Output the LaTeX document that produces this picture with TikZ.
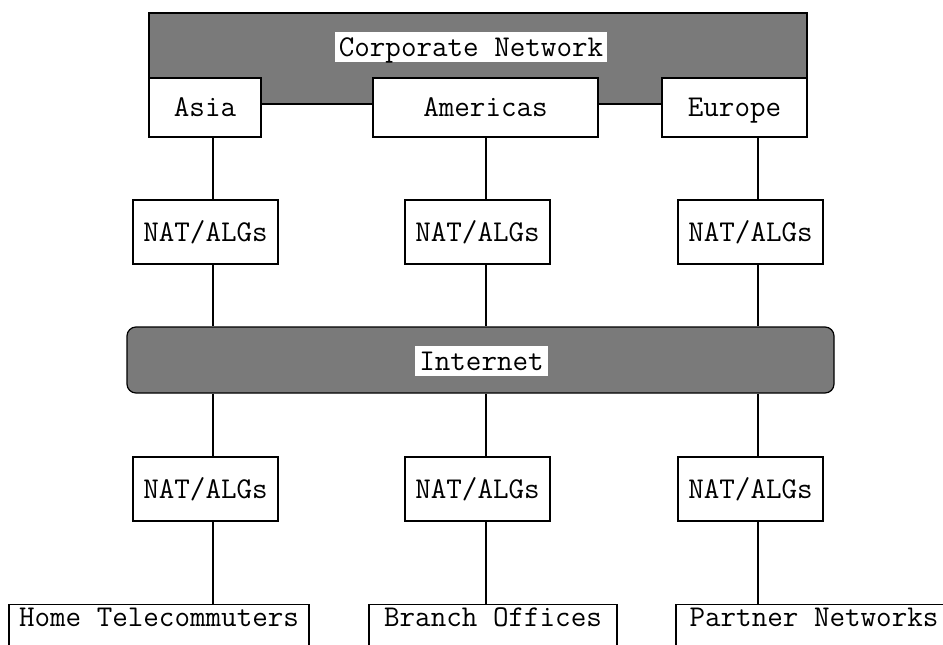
\documentclass[tikz,border=0pt]{standalone}
\newcommand{\diagfont}{\ttfamily\fontsize{30.2}{34}\selectfont}
\definecolor{hatch}{gray}{0.48}
\tikzset{
  netarea/.style={draw=black, fill=hatch, line width=1.2pt},
  box/.style={draw=black, fill=white, line width=1.4pt, minimum width=145pt,
    minimum height=64pt, inner sep=0pt, font=\diagfont, text height=19pt, text depth=0.5pt},
  endbox/.style={box, anchor=north, text height=22pt, text depth=60pt},
  lbl/.style={fill=white, inner xsep=4pt, inner ysep=5pt, font=\diagfont, text height=19pt, text depth=0.5pt},
  link/.style={draw=black, line width=1.4pt}
}
\begin{document}
\begin{tikzpicture}[x=1pt,y=-1pt]
\useasboundingbox (0,0) rectangle (943,645);
\clip (0,0) rectangle (943,645);
% columns of connectors
\coordinate (c1) at (213,0);
\coordinate (c2) at (486,0);
\coordinate (c3) at (758,0);
% corporate network
\node[netarea, minimum width=658pt, minimum height=91pt, inner sep=0pt] (corp) at (478,58.5) {};
\node[lbl] (corplbl) at (471,47) {Corporate Network};
\node[box, minimum width=112pt, minimum height=59pt] (asia) at (205,107.5) {Asia};
\node[box, minimum width=225pt, minimum height=59pt] (amer) at (485.5,107.5) {Americas};
\node[box, minimum width=145pt, minimum height=59pt] (euro) at (734.5,107.5) {Europe};
% upper NAT
\node[box] (na1) at (205.5,232) {NAT/ALGs};
\node[box] (nb1) at (477.5,232) {NAT/ALGs};
\node[box] (nc1) at (750.5,232) {NAT/ALGs};
% internet
\node[netarea, rounded corners=9pt, minimum width=707pt, minimum height=66pt, inner sep=0pt] (inet) at (480.5,360) {};
\node[lbl] (inetlbl) at (481.5,361) {Internet};
% lower NAT
\node[box] (na2) at (205.5,489) {NAT/ALGs};
\node[box] (nb2) at (477.5,489) {NAT/ALGs};
\node[box] (nc2) at (750.5,489) {NAT/ALGs};
% end sites
\node[endbox, minimum width=300pt] (home) at (159,604) {Home Telecommuters};
\node[endbox, minimum width=248pt] (branch) at (493,604) {Branch Offices};
\node[endbox, minimum width=276pt] (partner) at (814,604) {Partner Networks};
% connectors
\draw[link] (asia.south -| c1) -- (na1.north -| c1);
\draw[link] (amer.south -| c2) -- (nb1.north -| c2);
\draw[link] (euro.south -| c3) -- (nc1.north -| c3);
\draw[link] (na1.south -| c1) -- (inet.north -| c1);
\draw[link] (nb1.south -| c2) -- (inet.north -| c2);
\draw[link] (nc1.south -| c3) -- (inet.north -| c3);
\draw[link] (inet.south -| c1) -- (na2.north -| c1);
\draw[link] (inet.south -| c2) -- (nb2.north -| c2);
\draw[link] (inet.south -| c3) -- (nc2.north -| c3);
\draw[link] (na2.south -| c1) -- (home.north -| c1);
\draw[link] (nb2.south -| c2) -- (branch.north -| c2);
\draw[link] (nc2.south -| c3) -- (partner.north -| c3);
\end{tikzpicture}
\end{document}
